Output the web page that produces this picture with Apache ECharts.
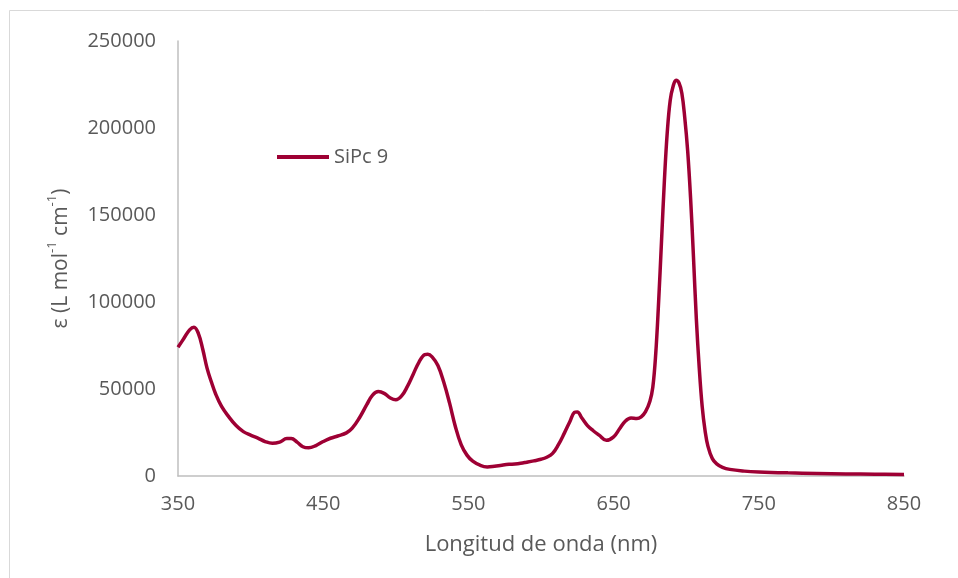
<!DOCTYPE html>
<html>
<head>
<meta charset="utf-8">
<title>SiPc 9</title>
<script src="https://cdn.jsdelivr.net/npm/echarts@6/dist/echarts.min.js"></script>
<style>
  html, body { margin: 0; padding: 0; background: #ffffff; }
  #chart { width: 958px; height: 578px; }
</style>
</head>
<body>
<div id="chart"></div>
<script>
// Absorption spectrum of SiPc 9: wavelength (nm) and molar absorptivity ε (L mol-1 cm-1)
const seriesName = 'SiPc 9';
const wavelength = [
  350, 354, 358, 361, 364, 367, 370, 373, 376, 380, 385, 390, 395, 400, 405, 410, 415, 420,
  425, 428, 432, 436, 440, 445, 450, 455, 460, 466, 470, 475, 480, 484, 488, 492, 496, 500,
  504, 508, 512, 516, 520, 522, 525, 529, 533, 537, 541, 545, 549, 553, 558, 563, 568, 573,
  578, 582, 586, 590, 595, 600, 604, 608, 612, 616, 620, 623, 625, 628, 632, 636, 640, 645,
  650, 654, 658, 662, 666, 669, 672, 675, 677, 679, 681, 683, 685, 687, 689, 691, 693, 695,
  697, 699, 701, 703, 705, 707, 709, 711, 713, 715, 718, 721, 725, 730, 740, 750, 770, 790,
  810, 830, 850
];
const epsilon = [
  74000, 79000, 84000, 85500, 82000, 73000, 62000, 54000, 47000, 40000, 34000, 29000, 25500, 23500, 21800, 19800, 18800, 19500,
  21500, 21500, 19500, 16800, 16200, 17500, 19800, 21700, 23000, 24800, 27500, 33500, 41000, 46500, 48500, 47500, 45000, 43800,
  46000, 51500, 58500, 65500, 69800, 70000, 68500, 63500, 54000, 42000, 28500, 18000, 12000, 8500, 6200, 5200, 5600, 6200,
  6700, 6900, 7300, 7900, 8700, 9600, 10800, 13000, 18000, 24500, 31500, 36500, 36800, 33500, 29000, 26000, 23500, 20500,
  22500, 27000, 31500, 33300, 33000, 34000, 37000, 43000, 51000, 70000, 100000, 135000, 170000, 198000, 216000, 224000, 227500, 226000,
  220000, 206000, 187000, 160000, 126000, 90000, 62000, 40000, 26000, 17000, 10000, 7000, 5000, 3800, 2800, 2300, 1800, 1500,
  1200, 1000, 900
];
const xTicks = { min: 350, max: 850, step: 100 };
const yTicks = { min: 0, max: 250000, step: 50000 };

const points = wavelength.map((w, i) => [w, epsilon[i]]);

const textColor = '#595959';
const axisColor = '#bfbfbf';
const lineColor = '#9e0034';
const fontFamily = '"Open Sans", "Liberation Sans", sans-serif';

const chart = echarts.init(document.getElementById('chart'), null, { renderer: 'canvas' });

chart.setOption({
  backgroundColor: '#ffffff',
  animation: false,
  textStyle: { fontFamily: fontFamily, color: textColor },
  graphic: [{
    type: 'rect',
    shape: { x: 9.5, y: 10.5, width: 1200, height: 1000 },
    style: { fill: 'none', stroke: '#d9d9d9', lineWidth: 1 },
    silent: true
  }],
  grid: { left: 178, right: 54, top: 41, bottom: 102, containLabel: false },
  legend: {
    left: 272,
    top: 142,
    itemWidth: 52,
    itemHeight: 14,
    itemGap: 6,
    data: [{ name: seriesName, icon: 'path://M0,0 L52,0 L52,4 L0,4 Z', itemStyle: { color: lineColor } }],
    textStyle: { fontFamily: fontFamily, fontSize: 20, color: textColor }
  },
  xAxis: {
    type: 'value',
    min: xTicks.min,
    max: xTicks.max,
    interval: xTicks.step,
    name: 'Longitud de onda (nm)',
    nameLocation: 'middle',
    nameGap: 58,
    nameTextStyle: { fontFamily: fontFamily, fontSize: 22, color: textColor },
    axisLine: { show: true, onZero: false, lineStyle: { color: axisColor, width: 1.5 } },
    axisTick: { show: false },
    splitLine: { show: false },
    axisLabel: { fontFamily: fontFamily, fontSize: 20, color: textColor, margin: 18 }
  },
  yAxis: {
    type: 'value',
    min: yTicks.min,
    max: yTicks.max,
    interval: yTicks.step,
    name: '{n|ε (L mol}{s|-1}{n| cm}{s|-1}{n|)}',
    nameLocation: 'middle',
    nameGap: 106,
    nameRotate: 90,
    nameTextStyle: {
      rich: {
        n: { fontFamily: fontFamily, fontSize: 21, color: textColor, verticalAlign: 'bottom', lineHeight: 26 },
        s: { fontFamily: fontFamily, fontSize: 13, color: textColor, verticalAlign: 'top', lineHeight: 26, padding: [0, 0, 10, 0] }
      }
    },
    axisLine: { show: true, lineStyle: { color: axisColor, width: 1.5 } },
    axisTick: { show: false },
    splitLine: { show: false },
    axisLabel: {
      fontFamily: fontFamily, fontSize: 20, color: textColor, margin: 22,
      formatter: (v) => String(v)
    }
  },
  series: [{
    name: seriesName,
    type: 'line',
    data: points,
    smooth: 0.4,
    showSymbol: false,
    symbol: 'none',
    lineStyle: { color: lineColor, width: 3.5 },
    itemStyle: { color: lineColor }
  }]
});
</script>
</body>
</html>
